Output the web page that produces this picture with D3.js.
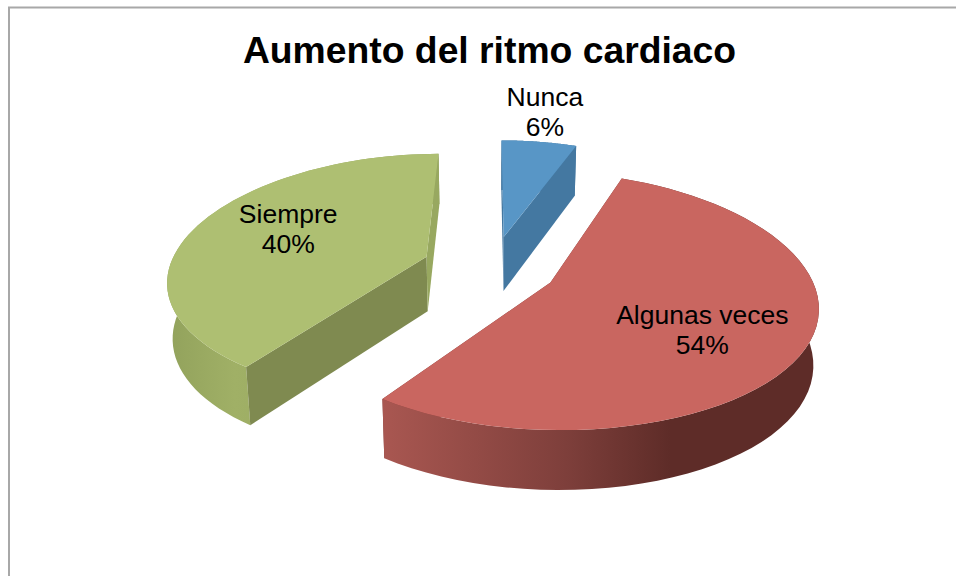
<!DOCTYPE html>
<html>
<head>
<meta charset="utf-8">
<script src="https://cdn.jsdelivr.net/npm/d3@7"></script>
<style>
html,body{margin:0;padding:0;background:#fff;overflow:hidden}
svg{display:block}
text{font-family:"Liberation Sans",Arial,sans-serif;fill:#000}
</style>
</head>
<body>
<svg id="c" width="956" height="576"></svg>
<script>
const title = "Aumento del ritmo cardiaco";
const categories = ["Nunca", "Algunas veces", "Siempre"];
const values = [6, 54, 40];
const topColors = ["#5896C6", "#C96660", "#AEBF72"];
const startFaceColors = ["#4478A1", "#7A3A36", "#7F8A50"];
const endFaceColors = ["#4478A1", "#7A3A36", "#98A860"];
const wallStops = [
  [["0","#4478A1"],["1","#4478A1"]],
  [["0","#A95751"],["0.42","#7E3F3B"],["0.66","#5E2C28"],["1","#5E2C28"]],
  [["0","#92A25C"],["0.25","#A0B066"],["1","#8F9F5A"]]
];
const labelRadius = [1.43, 0.638, 0.628];
const labelAngleShift = [-0.016, 0.084, 0.068];
const explodeScale = [1, 1, 1.07];

// layout
const W = 956, H = 576, cx = 492, cy = 267, R = 257, PX = 0.18, RY = 124.5, PY = 0.149,
      EXPL = 0.254, DEPTH = 55, PD = 0.08, BOT = 0.983;
const svg = d3.select("#c");
svg.append("path").attr("d", `M9,${H}V7.5H${W}`).attr("fill","none").attr("stroke","#a8a8a8").attr("stroke-width",2);
svg.append("text").attr("x",489.5).attr("y",63).attr("text-anchor","middle")
   .attr("font-size",37.3).attr("font-weight","bold").text(title);

const arcs = d3.pie().sort(null).startAngle(0).endAngle(2*Math.PI)(values);

function world(d, r, a){
  const mid = (d.startAngle + d.endAngle) / 2, e = EXPL*explodeScale[d.index];
  return [e*Math.sin(mid) + r*Math.sin(a), -e*Math.cos(mid) - r*Math.cos(a)];
}
function project(d, r, a, low){
  const [U,V] = world(d, r, a);
  const f = low ? BOT : 1;
  return [cx + R*U*(1+PX*V)*f, cy + RY*V*(1+PY*V) + (low ? DEPTH*(1+PD*V) : 0)];
}
const line = d3.line();
function arcPts(d, low){
  const a0 = d.startAngle, a1 = d.endAngle;
  return d3.range(0, 61).map(i => project(d, 1, a0 + (a1-a0)*i/60, low));
}

const defs = svg.append("defs");
const drawOrder = [2, 0, 1];
drawOrder.forEach(i => {
  const d = arcs[i];
  const g = svg.append("g");
  const ap = project(d,0,0,false), apL = project(d,0,0,true);
  const face = (a, color) => {
    const o = project(d,1,a,false), oL = project(d,1,a,true);
    g.append("path").attr("d", line([ap,o,oL,apL])+"Z").attr("fill",color);
  };

  // the slice that faces the viewer hides its radial faces behind its outer wall
  const facesFirst = i === 1;
  if (facesFirst) { face(d.startAngle, startFaceColors[i]); face(d.endAngle, endFaceColors[i]); }

  // outer wall with horizontal gradient
  const top = arcPts(d,false), low = arcPts(d,true);
  const xs = top.map(p=>p[0]);
  const grad = defs.append("linearGradient").attr("id","w"+i).attr("gradientUnits","userSpaceOnUse")
    .attr("x1",d3.min(xs)).attr("x2",d3.max(xs)).attr("y1",0).attr("y2",0);
  wallStops[i].forEach(s => grad.append("stop").attr("offset",s[0]).attr("stop-color",s[1]));
  g.append("path").attr("d", line(top.concat(low.slice().reverse()))+"Z").attr("fill",`url(#w${i})`);

  if (!facesFirst) { face(d.startAngle, startFaceColors[i]); face(d.endAngle, endFaceColors[i]); }

  // top surface
  g.append("path").attr("d", line([ap].concat(top))+"Z").attr("fill",topColors[i]);
});

// labels
const pct = d3.format(".0%"), total = d3.sum(values);
arcs.forEach((d,i) => {
  const mid = (d.startAngle+d.endAngle)/2 + labelAngleShift[i];
  const p = project(d, labelRadius[i], mid, false);
  const t = svg.append("text").attr("text-anchor","middle").attr("font-size",26.5);
  t.append("tspan").attr("x",p[0]).attr("y",p[1]-6).text(categories[i]);
  t.append("tspan").attr("x",p[0]).attr("y",p[1]+24).text(pct(values[i]/total));
});
</script>
</body>
</html>
